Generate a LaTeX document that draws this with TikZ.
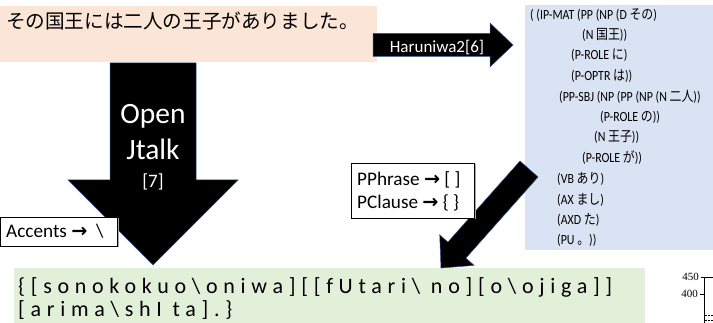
\documentclass[tikz,border=0pt]{standalone}
\usepackage{fontspec}
\setmainfont{Carlito}
\newfontfamily\jpfont{Noto Sans CJK JP}
\newfontfamily\treefont[FakeStretch=0.85]{Carlito}
\newfontfamily\treejpfont[FakeStretch=0.85]{Noto Sans CJK JP}
\newfontfamily\spacedfont[LetterSpace=26]{Carlito}
\newfontfamily\symbfont{DejaVu Sans}
\newfontfamily\plotfont{Liberation Serif}
\definecolor{pinkfill}{HTML}{FBE5D6}
\definecolor{bluefill}{HTML}{DAE3F3}
\definecolor{greenfill}{HTML}{E2F0D9}
\definecolor{arrowedge}{HTML}{2F528F}
\newcommand{\maparrow}{{\symbfont\bfseries →}}
\newcommand{\jtree}[1]{{\treejpfont #1}}
\tikzstyle{blockarrow}=[fill=black, draw=arrowedge, line width=0.5]
\tikzstyle{notebox}=[draw=black, line width=0.7, fill=white]
\tikzstyle{boxshadow}=[fill=black!35]
\tikzstyle{arrowtext}=[text=white, inner sep=0, anchor=base]
\tikzstyle{notetext}=[inner sep=0, anchor=base west, font=\fontsize{19.2}{22}\selectfont]
\tikzstyle{treeline}=[inner sep=0, anchor=west, font=\fontsize{14}{16}\treefont]
\tikzstyle{pronline}=[inner sep=0, anchor=base west, font=\fontsize{22}{24}\spacedfont]

\begin{document}
\begin{tikzpicture}[x=1pt, y=-1pt]
  \useasboundingbox (0,0) rectangle (713,323);
  \fill[pinkfill] (0,6) rectangle (377,62);
  \fill[bluefill] (525,5) rectangle (713,250);
  \fill[greenfill] (14,268) rectangle (645,323);
  \node[inner sep=0, anchor=west, font=\fontsize{19.6}{22}\jpfont] (sentence) at (6,21) {その国王には二人の王子がありました。};

  \draw[blockarrow] (373,33.5) -- (490,33.5) -- (490,23) -- (513,45) -- (490,67) -- (490,56.5) -- (373,56.5) -- cycle;
  \node[arrowtext, font=\fontsize{17}{19}\selectfont] (haruniwa) at (437,53) {Haruniwa2[6]};

  \draw[blockarrow] (110,63) -- (196,63) -- (196,180) -- (238,180) -- (153,265) -- (68,180) -- (110,180) -- cycle;
  \node[arrowtext, font=\fontsize{29.5}{32}\selectfont] (open) at (153,124) {Open};
  \node[arrowtext, font=\fontsize{29.5}{32}\selectfont] (jtalk) at (153,160) {Jtalk};
  \node[arrowtext, font=\fontsize{19}{22}\selectfont] (ref7) at (153,188) {[7]};

  \draw[blockarrow] (520,161) -- (447.9,242.1) -- (439.7,234.8) -- (441,268) -- (474.1,265.4) -- (465.9,258.1) -- (538,177) -- cycle;

  \fill[boxshadow] (1.5,218.5) rectangle (118.5,247.5);
  \draw[notebox] (0,217) rectangle (117,246);
  \node[notetext] (accents) at (6,238) {Accents \maparrow\ \ \textbackslash};

  \fill[boxshadow] (352.5,164.5) rectangle (475.5,219.5);
  \draw[notebox] (351,163) rectangle (474,218);
  \node[notetext] (pphrase) at (357,186) {PPhrase \maparrow\ [ ]};
  \node[notetext] (pclause) at (357,209) {PClause \maparrow\ \{ \}};

  \node[treeline] (t1) at (530,15) {( (IP-MAT (PP (NP (D \jtree{その})};
  \node[treeline] (t2) at (582,35) {(N \jtree{国王}))};
  \node[treeline] (t3) at (571,55) {(P-ROLE \jtree{に})};
  \node[treeline] (t4) at (571,76) {(P-OPTR \jtree{は}))};
  \node[treeline] (t5) at (559,97) {(PP-SBJ (NP (PP (NP (N \jtree{二人}))};
  \node[treeline] (t6) at (600,117) {(P-ROLE \jtree{の}))};
  \node[treeline] (t7) at (594,137) {(N \jtree{王子}))};
  \node[treeline] (t8) at (582,158) {(P-ROLE \jtree{が}))};
  \node[treeline] (t9) at (557,179) {(VB \jtree{あり})};
  \node[treeline] (t10) at (557,200) {(AX \jtree{まし})};
  \node[treeline] (t11) at (557,220) {(AXD \jtree{た})};
  \node[treeline] (t12) at (557,240) {(PU \jtree{。}))};

  \node[pronline] (pron1) at (18,294) {\{[sonokokuo\textbackslash oniwa][[fUtari\textbackslash\ no][o\textbackslash ojiga]]};
  \node[pronline] (pron2) at (18,317) {[arima\textbackslash shI ta].\}};

  \node[inner sep=0, anchor=east, font=\fontsize{11}{12}\plotfont] (y450) at (699,277) {450};
  \node[inner sep=0, anchor=east, font=\fontsize{11}{12}\plotfont] (y400) at (698,294) {400};
  \draw[line width=0.6] (704,277) -- (704,323);
  \draw[line width=0.6] (701,277) -- (713,277);
  \draw[line width=0.6] (700,294) -- (704,294);
  \draw[densely dotted] (705,315) -- (713,315);
  \draw[densely dotted] (705,320) -- (713,320);
\end{tikzpicture}
\end{document}
